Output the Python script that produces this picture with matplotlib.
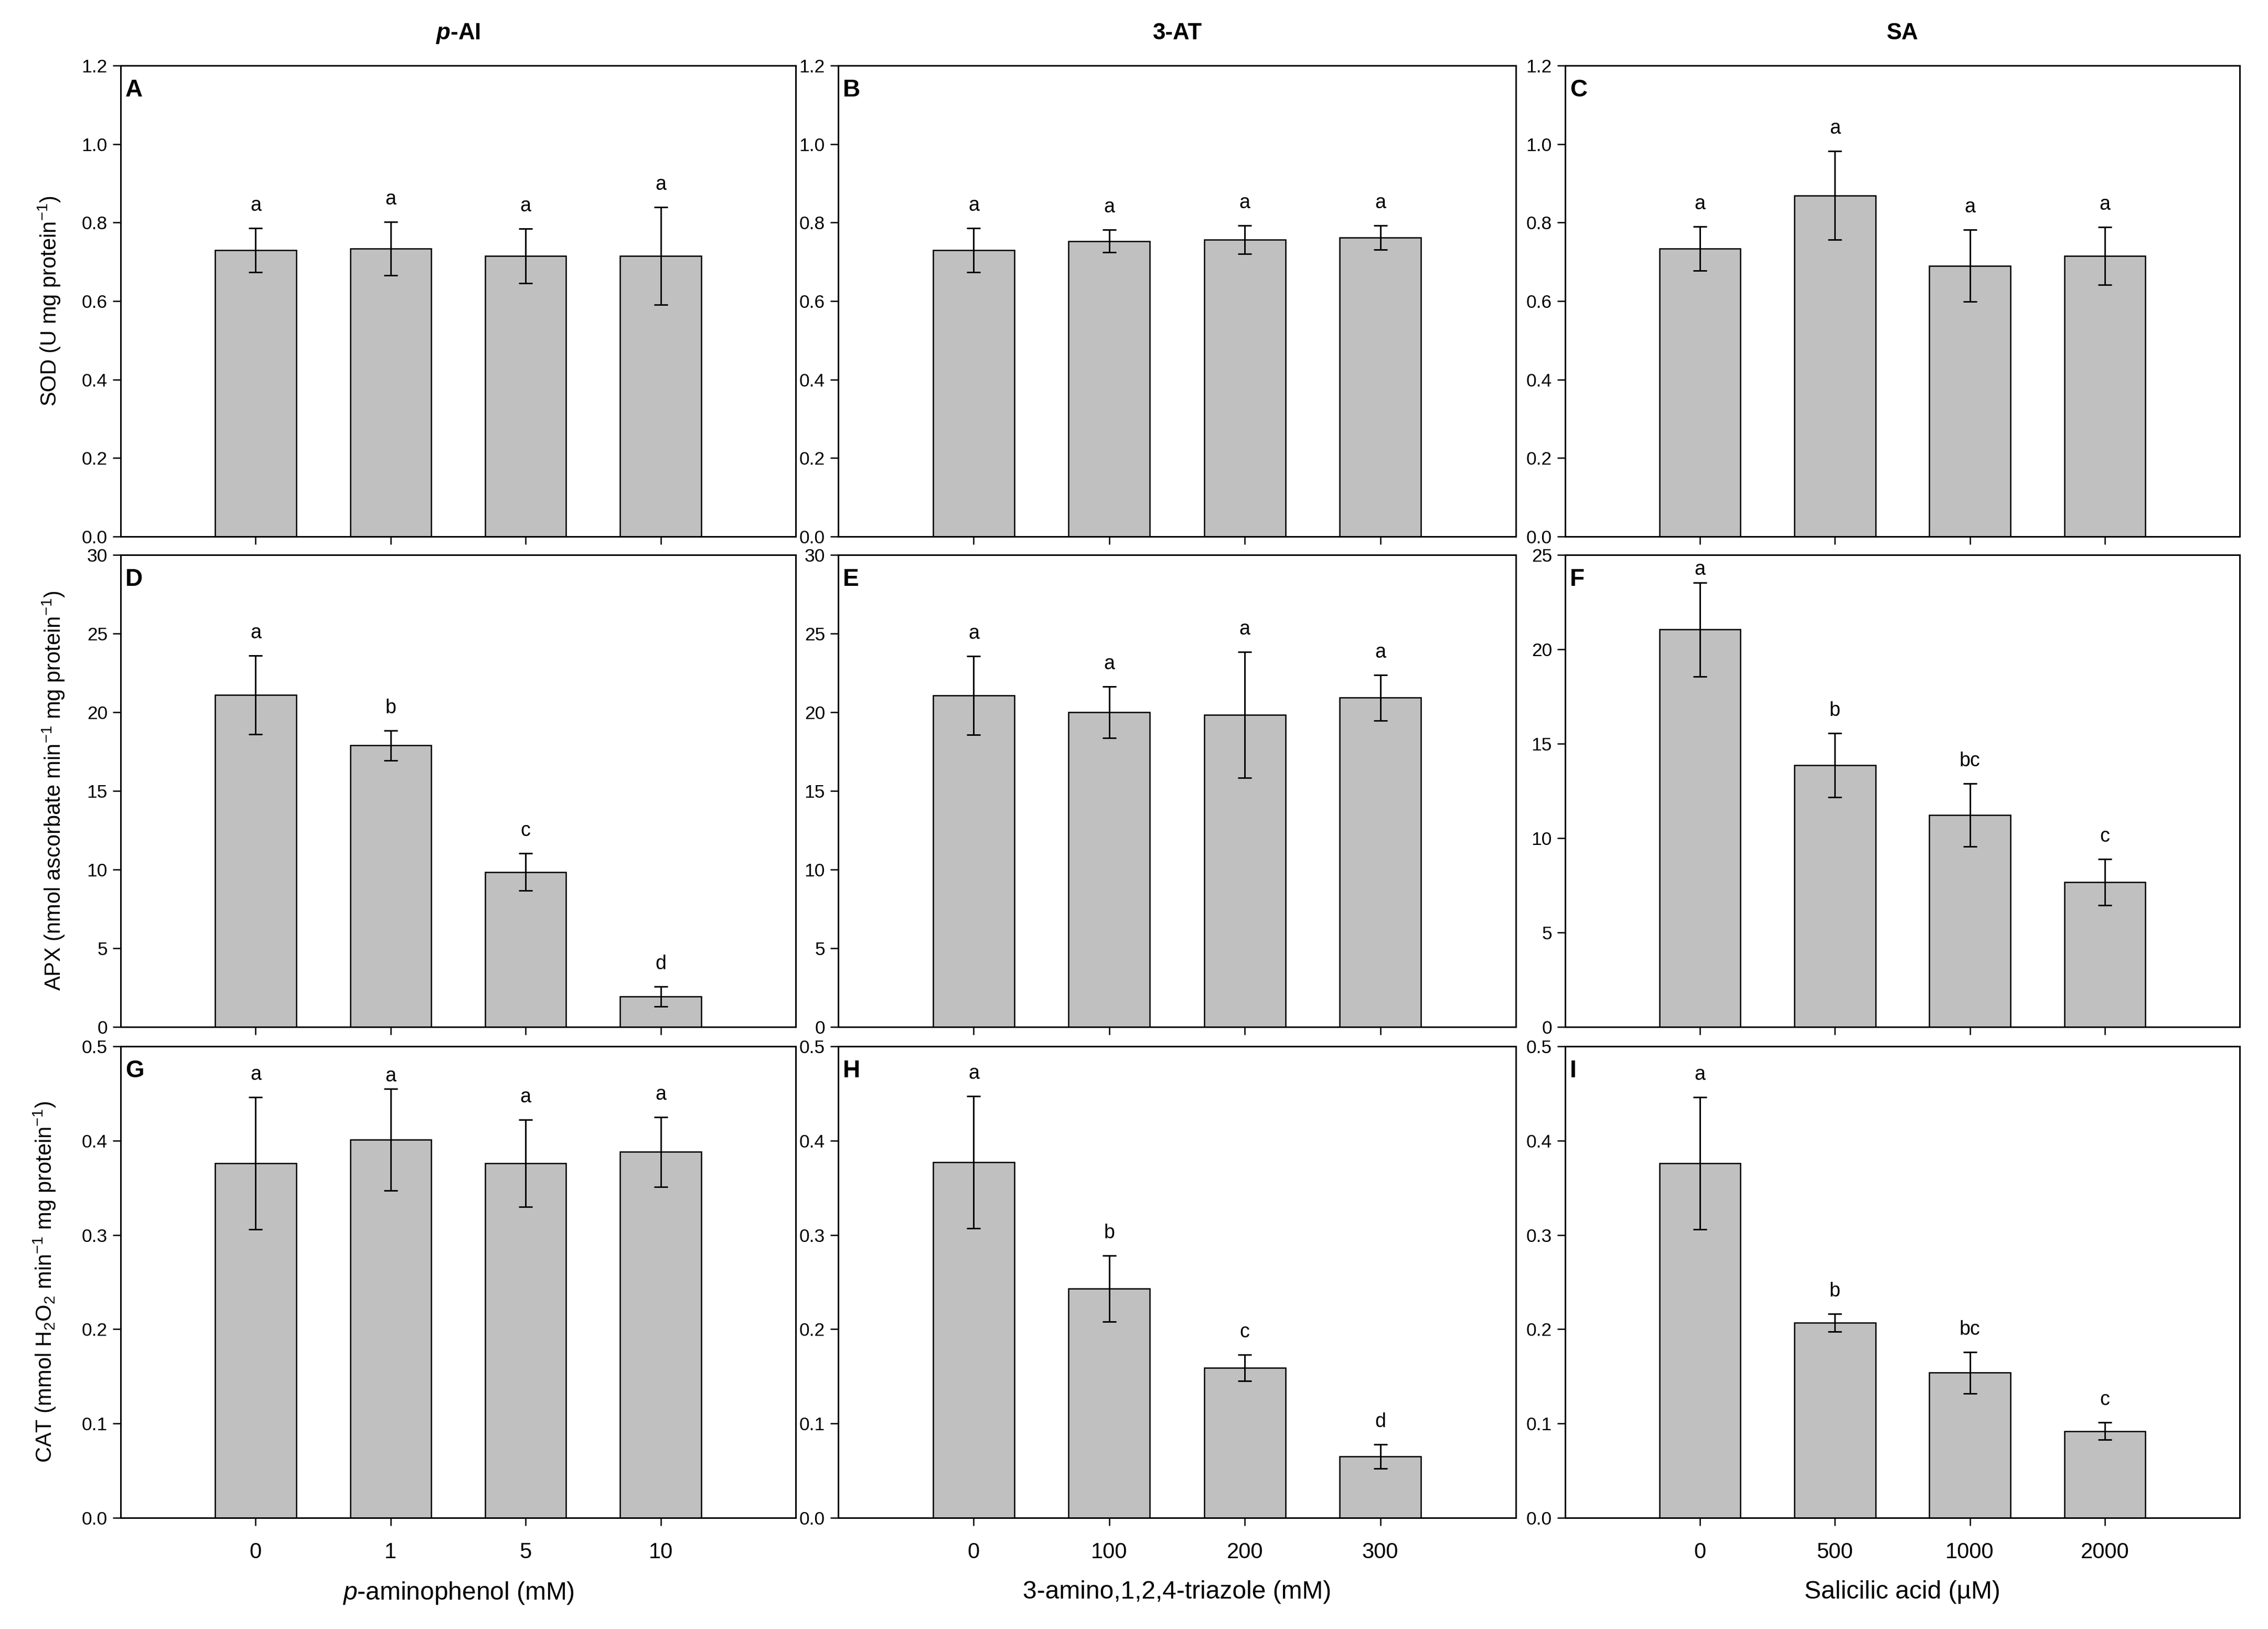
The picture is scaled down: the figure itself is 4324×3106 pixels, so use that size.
import matplotlib
matplotlib.use('Agg')
import matplotlib.pyplot as plt
from matplotlib.ticker import FormatStrFormatter, MultipleLocator

plt.rcParams['font.family'] = ['Liberation Sans', 'DejaVu Sans']
plt.rcParams['mathtext.fontset'] = 'custom'
plt.rcParams['mathtext.rm'] = 'Liberation Sans'
plt.rcParams['mathtext.it'] = 'Liberation Sans:italic'
plt.rcParams['mathtext.bf'] = 'Liberation Sans:bold'
plt.rcParams['mathtext.bfit'] = 'Liberation Sans:italic:bold'

# tratamientos (etiquetas del eje x)
pai_doses = ['0', '1', '5', '10']
at_doses = ['0', '100', '200', '300']
sa_doses = ['0', '500', '1000', '2000']

# SOD
sod_pai = [0.730, 0.734, 0.715, 0.715]
sod_pai_err = [0.056, 0.068, 0.069, 0.124]
sod_at = [0.730, 0.753, 0.756, 0.762]
sod_at_err = [0.056, 0.029, 0.036, 0.031]
sod_sa = [0.734, 0.869, 0.690, 0.715]
sod_sa_err = [0.056, 0.113, 0.092, 0.074]
sod_pai_sig = ['a', 'a', 'a', 'a']
sod_at_sig = ['a', 'a', 'a', 'a']
sod_sa_sig = ['a', 'a', 'a', 'a']

# APX
apx_pai = [21.1, 17.9, 9.84, 1.94]
apx_pai_err = [2.5, 0.95, 1.18, 0.63]
apx_at = [21.07, 19.99, 19.82, 20.92]
apx_at_err = [2.5, 1.63, 4.0, 1.46]
apx_sa = [21.05, 13.86, 11.22, 7.67]
apx_sa_err = [2.49, 1.70, 1.66, 1.22]
apx_pai_sig = ['a', 'b', 'c', 'd']
apx_at_sig = ['a', 'a', 'a', 'a']
apx_sa_sig = ['a', 'b', 'bc', 'c']

# CAT
cat_pai = [0.376, 0.401, 0.376, 0.388]
cat_pai_err = [0.070, 0.054, 0.046, 0.037]
cat_at = [0.377, 0.243, 0.159, 0.065]
cat_at_err = [0.070, 0.035, 0.0137, 0.0126]
cat_sa = [0.376, 0.207, 0.154, 0.092]
cat_sa_err = [0.070, 0.0096, 0.022, 0.0094]
cat_pai_sig = ['a', 'a', 'a', 'a']
cat_at_sig = ['a', 'b', 'c', 'd']
cat_sa_sig = ['a', 'b', 'bc', 'c']

col_titles = [r'$\mathbfit{p}$-AI', '3-AT', 'SA']
xlabels = [r'$\mathit{p}$-aminophenol (mM)', '3-amino,1,2,4-triazole (mM)',
           'Salicilic acid (\u00b5M)']
ylabels = ['SOD (U mg protein$^{-1}$)',
           'APX (nmol ascorbate min$^{-1}$ mg protein$^{-1}$)',
           'CAT (mmol H$_{2}$O$_{2}$ min$^{-1}$ mg protein$^{-1}$)']
panel_letters = [['A', 'B', 'C'], ['D', 'E', 'F'], ['G', 'H', 'I']]

data = [
    [(sod_pai, sod_pai_err, sod_pai_sig), (sod_at, sod_at_err, sod_at_sig), (sod_sa, sod_sa_err, sod_sa_sig)],
    [(apx_pai, apx_pai_err, apx_pai_sig), (apx_at, apx_at_err, apx_at_sig), (apx_sa, apx_sa_err, apx_sa_sig)],
    [(cat_pai, cat_pai_err, cat_pai_sig), (cat_at, cat_at_err, cat_at_sig), (cat_sa, cat_sa_err, cat_sa_sig)],
]
doses = [pai_doses, at_doses, sa_doses]

# limites de los ejes y por fila/columna
ylims = [[(0, 1.2, 0.2, '%.1f')] * 3,
         [(0, 30, 5, '%d'), (0, 30, 5, '%d'), (0, 25, 5, '%d')],
         [(0, 0.5, 0.1, '%.1f')] * 3]

W, H = 4324, 3106
fig = plt.figure(figsize=(W / 300, H / 300), dpi=300)

col_lr = [(230, 1517), (1598, 2890), (2984, 4270)]
row_tb = [(125, 1023), (1058, 1958), (1995, 2894)]
ylabel_x = [-0.086, -0.080, -0.093]

for r in range(3):
    for c in range(3):
        l, rr = col_lr[c]
        t, b = row_tb[r]
        ax = fig.add_axes([l / W, 1 - b / H, (rr - l) / W, (b - t) / H])
        vals, errs, sig = data[r][c]
        y0, y1, step, fmt = ylims[r][c]
        x = [1, 2, 3, 4]
        ax.bar(x, vals, width=0.6, color='#c0c0c0', edgecolor='black', linewidth=0.6, zorder=2)
        ax.errorbar(x, vals, yerr=errs, fmt='none', ecolor='black', elinewidth=0.7,
                    capsize=3.2, capthick=0.7, zorder=3)
        for xi, v, e, s in zip(x, vals, errs, sig):
            # si la letra no cabe arriba, se pega a la barra de error
            off = 1.5 if (v + e) > 0.9 * y1 else 6
            ax.annotate(s, (xi, v + e), xytext=(0, off), textcoords='offset points',
                        ha='center', va='bottom', fontsize=9)
        ax.set_ylim(y0, y1)
        ax.set_xlim(0, 5)
        ax.yaxis.set_major_locator(MultipleLocator(step))
        ax.yaxis.set_major_formatter(FormatStrFormatter(fmt))
        ax.set_xticks(x)
        if r == 2:
            ax.set_xticklabels(doses[c], fontsize=10)
            ax.set_xlabel(xlabels[c], fontsize=11.5, labelpad=8)
        else:
            ax.set_xticklabels([])
        ax.tick_params(axis='x', direction='out', length=3.5, width=0.6, pad=7.5)
        ax.tick_params(axis='y', direction='out', length=3.5, width=0.6, pad=2.5, labelsize=8.5)
        for sp in ax.spines.values():
            sp.set_linewidth(0.7)
        ax.text(0.007, 0.972, panel_letters[r][c], transform=ax.transAxes,
                ha='left', va='top', fontsize=11, fontweight='bold')
        if c == 0:
            ax.set_ylabel(ylabels[r], fontsize=10)
            ax.yaxis.set_label_coords(ylabel_x[r], 0.5)
        if r == 0:
            ax.set_title(col_titles[c], fontsize=10.5, fontweight='bold', pad=12)

fig.savefig('out.png', dpi=300)
